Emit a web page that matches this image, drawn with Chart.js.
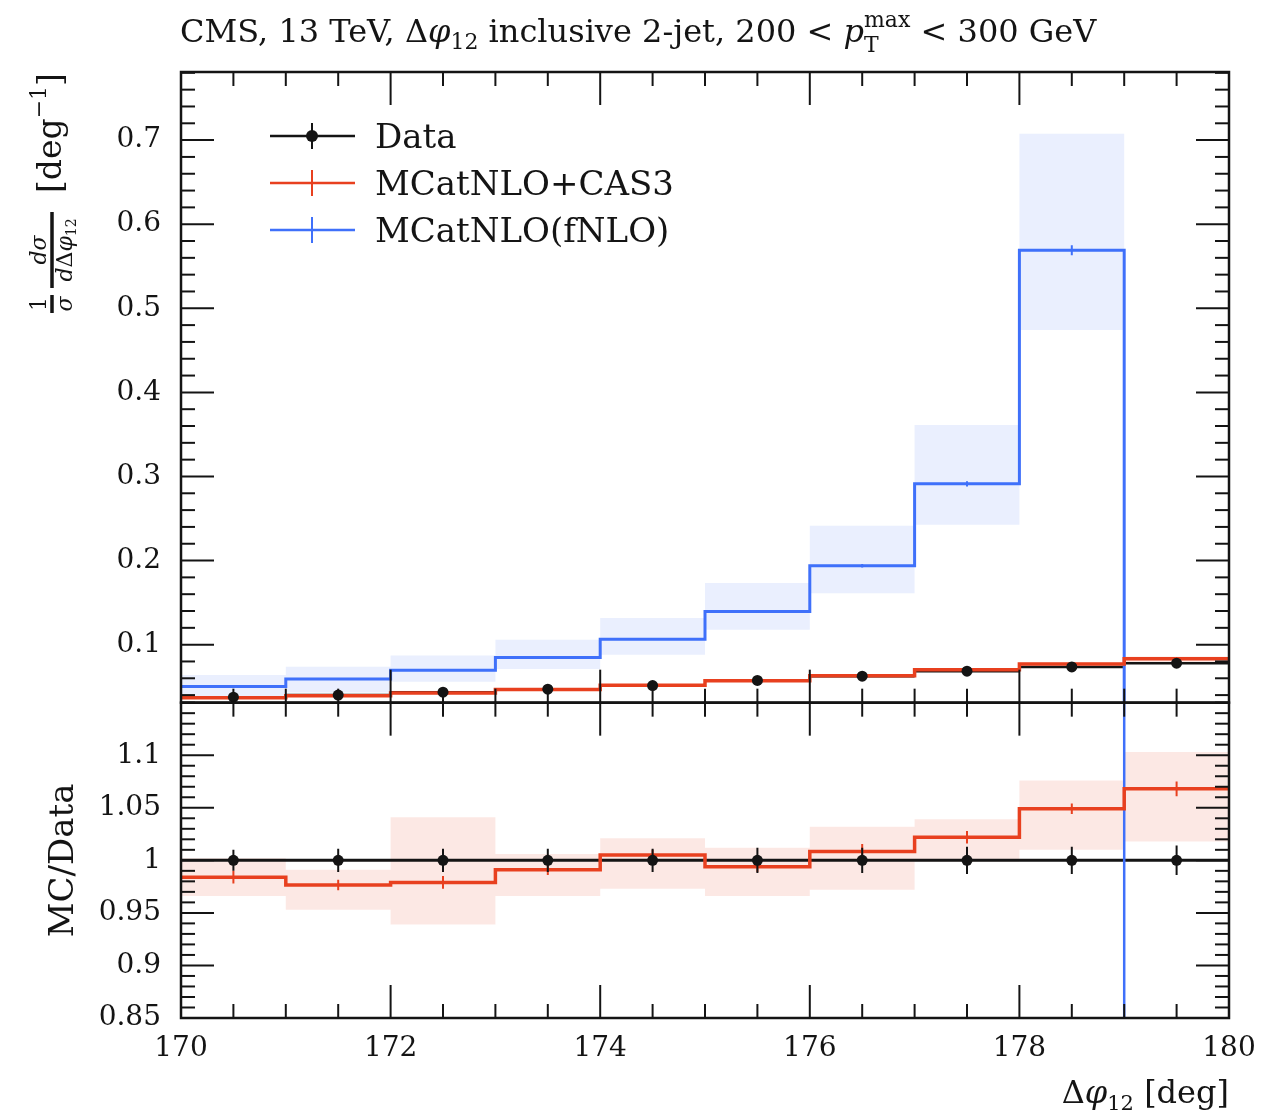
<!DOCTYPE html>
<html>
<head>
<meta charset="utf-8">
<title>CMS 13 TeV, delta phi12 inclusive 2-jet</title>
<script src="https://cdn.jsdelivr.net/npm/chart.js@4.4.1/dist/chart.umd.min.js"></script>
<style>
    html, body { margin: 0; padding: 0; background: #fff; }
    canvas { display: block; }
</style>
</head>
<body>
<canvas id="dphiChart" width="1279" height="1118"></canvas>
<script>
// ---- values ----
const binEdges = [170, 171, 172, 173, 174, 175, 176, 177, 178, 179, 180];
const binCenters = [170.5, 171.5, 172.5, 173.5, 174.5, 175.5, 176.5, 177.5, 178.5, 179.5];

// upper panel: 1/sigma dsigma/dDphi12 [deg^-1]
const dataVals = [0.0375, 0.0400, 0.0435, 0.0470, 0.0513, 0.0575, 0.0625, 0.0685, 0.0735, 0.0780];
const dataErr = [0.0004, 0.0004, 0.0005, 0.0005, 0.0006, 0.0007, 0.0008, 0.0009, 0.0010, 0.0011];
const cas3Vals = [0.0369, 0.0391, 0.0426, 0.0466, 0.0516, 0.0572, 0.0630, 0.0700, 0.0771, 0.0833];
const cas3Err = [0.0002, 0.0002, 0.0003, 0.0002, 0.0003, 0.0003, 0.0004, 0.0004, 0.0004, 0.0006];
const cas3BandLo = [0.0362, 0.0381, 0.0408, 0.0454, 0.0499, 0.0555, 0.0607, 0.0684, 0.0742, 0.0794];
const cas3BandHi = [0.0376, 0.0397, 0.0453, 0.0473, 0.0524, 0.0582, 0.0645, 0.0712, 0.0791, 0.0860];
const fnloVals = [0.0502, 0.0590, 0.0695, 0.0847, 0.1065, 0.1393, 0.1938, 0.2912, 0.5691, 0];
const fnloErr = [0.0005, 0.0006, 0.0007, 0.0009, 0.0011, 0.0015, 0.0020, 0.0030, 0.0060, 0];
const fnloBandLo = [0.0380, 0.0430, 0.0560, 0.0710, 0.0881, 0.1178, 0.1612, 0.2425, 0.4741];
const fnloBandHi = [0.0640, 0.0736, 0.0870, 0.1057, 0.1317, 0.1733, 0.2413, 0.3613, 0.7075];

// lower panel: MC/Data
const dataRatio = [1, 1, 1, 1, 1, 1, 1, 1, 1, 1];
const dataRatioErr = [0.010, 0.011, 0.011, 0.011, 0.011, 0.012, 0.012, 0.013, 0.013, 0.014];
const cas3Ratio = [0.984, 0.9765, 0.979, 0.991, 1.005, 0.994, 1.0085, 1.022, 1.049, 1.068];
const cas3RatioErr = [0.006, 0.005, 0.006, 0.005, 0.005, 0.005, 0.007, 0.006, 0.005, 0.007];
const cas3RatioLo = [0.966, 0.953, 0.939, 0.966, 0.973, 0.966, 0.972, 0.999, 1.010, 1.018];
const cas3RatioHi = [1.002, 0.991, 1.041, 1.006, 1.021, 1.012, 1.032, 1.039, 1.076, 1.103];
const fnloRatio = [1.34, 1.48, 1.60, 1.80, 2.08, 2.42, 3.10, 4.25, 7.74, 0];

// tick labels
const xTickLabels = ['170', '172', '174', '176', '178', '180'];
const yTickLabels = ['0.1', '0.2', '0.3', '0.4', '0.5', '0.6', '0.7'];
const ratioTickLabels = ['0.85', '0.9', '0.95', '1', '1.05', '1.1'];
const seriesNames = ['Data', 'MCatNLO+CAS3', 'MCatNLO(fNLO)'];

// ---- style ----
const SERIF = '"DejaVu Serif", "Liberation Serif", serif';
const BLACK = '#141414';
const RED = '#e8401f';
const BLUE = '#3f70fa';
const RED_BAND = 'rgba(232, 64, 31, 0.12)';
const BLUE_BAND = 'rgba(63, 112, 250, 0.11)';
const MAJOR_TICK = 33;
const MINOR_TICK = 14;

// ---- helpers turning bin values into chart points ----
function stepPoints(values) {
    return binEdges.map((x, i) => ({ x, y: values[Math.min(i, values.length - 1)] }));
}

function binSegments(values) {
    const pts = [];
    values.forEach((v, i) => {
        pts.push({ x: binEdges[i], y: v }, { x: binEdges[i + 1], y: v }, { x: binEdges[i + 1], y: null });
    });
    return pts;
}

function errorBars(values, errs) {
    const pts = [];
    values.forEach((v, i) => {
        const c = binCenters[i];
        pts.push({ x: c, y: v - errs[i] }, { x: c, y: v + errs[i] }, { x: c, y: null });
    });
    return pts;
}

function bandBoxes(lo, hi) {
    return lo.map((l, i) => ({ x: binCenters[i], y: [l, hi[i]] }));
}

function lineSet(label, data, axis, color, width) {
    return {
        type: 'line', label, data, yAxisID: axis,
        borderColor: color, borderWidth: width,
        pointRadius: 0, fill: false, spanGaps: false, tension: 0
    };
}

function stepSet(label, values, axis, color, width) {
    const ds = lineSet(label, stepPoints(values), axis, color, width);
    ds.stepped = true;
    return ds;
}

function markerSet(label, values, axis) {
    return {
        type: 'line', label, yAxisID: axis, showLine: false,
        data: values.map((v, i) => ({ x: binCenters[i], y: v })),
        pointRadius: 5.5, pointStyle: 'circle', pointBorderWidth: 0,
        pointBackgroundColor: BLACK, pointBorderColor: BLACK
    };
}

// ungrouped bars take their width from the 0.5 deg tick spacing,
// so barPercentage 2 makes each box span one full 1 deg bin
function bandSet(label, lo, hi, axis, color) {
    return {
        type: 'bar', label, data: bandBoxes(lo, hi), yAxisID: axis,
        backgroundColor: color, borderWidth: 0,
        barPercentage: 2, categoryPercentage: 1, grouped: false
    };
}

function tickLabel(list, digits) {
    return v => {
        const s = String(+Number(v).toFixed(digits));
        return list.includes(s) ? s : '';
    };
}

// first in list is drawn on top
const datasets = [
    // upper panel
    markerSet('Data', dataVals, 'y'),
    lineSet('Data err', errorBars(dataVals, dataErr), 'y', BLACK, 2),
    lineSet('CAS3 err', errorBars(cas3Vals, cas3Err), 'y', RED, 2),
    lineSet('fNLO err', errorBars(fnloVals, fnloErr), 'y', BLUE, 2),
    stepSet('MCatNLO+CAS3', cas3Vals, 'y', RED, 3.5),
    stepSet('MCatNLO(fNLO)', fnloVals, 'y', BLUE, 3),
    lineSet('Data bins', binSegments(dataVals), 'y', BLACK, 2.5),
    bandSet('CAS3 band', cas3BandLo, cas3BandHi, 'y', RED_BAND),
    bandSet('fNLO band', fnloBandLo, fnloBandHi, 'y', BLUE_BAND),
    // lower panel
    markerSet('Data ratio', dataRatio, 'y2'),
    lineSet('Data ratio err', errorBars(dataRatio, dataRatioErr), 'y2', BLACK, 2),
    lineSet('CAS3 ratio err', errorBars(cas3Ratio, cas3RatioErr), 'y2', RED, 2),
    stepSet('CAS3 ratio', cas3Ratio, 'y2', RED, 3.5),
    stepSet('fNLO ratio', fnloRatio, 'y2', BLUE, 2.5),
    lineSet('Data ratio bins', binSegments(dataRatio), 'y2', BLACK, 3),
    bandSet('CAS3 ratio band', cas3RatioLo, cas3RatioHi, 'y2', RED_BAND)
];

// clip each dataset to its own panel (both y axes share one chart area)
const panelClip = {
    id: 'panelClip',
    beforeDatasetDraw(chart, args) {
        const ys = chart.scales[chart.data.datasets[args.index].yAxisID];
        const area = chart.chartArea;
        const ctx = chart.ctx;
        ctx.save();
        ctx.beginPath();
        ctx.rect(area.left, ys.top, area.right - area.left, ys.bottom - ys.top);
        ctx.clip();
    },
    afterDatasetDraw(chart) {
        chart.ctx.restore();
    }
};

// inward ticks on all four sides + panel frames
const frameTicks = {
    id: 'frameTicks',
    afterDraw(chart) {
        const { ctx, chartArea: area, scales } = chart;
        const xs = scales.x;
        const seg = (x1, y1, x2, y2) => {
            ctx.beginPath();
            ctx.moveTo(x1, y1);
            ctx.lineTo(x2, y2);
            ctx.stroke();
        };
        ctx.save();
        ctx.strokeStyle = BLACK;
        ctx.lineWidth = 2;
        ['y', 'y2'].forEach(id => {
            const ys = scales[id];
            ys.ticks.forEach(t => {
                const py = ys.getPixelForValue(t.value);
                const len = t.label ? MAJOR_TICK : MINOR_TICK;
                seg(area.left, py, area.left + len, py);
                seg(area.right - len, py, area.right, py);
            });
            xs.ticks.forEach(t => {
                const px = xs.getPixelForValue(t.value);
                const len = t.label ? MAJOR_TICK : MINOR_TICK;
                seg(px, ys.top, px, ys.top + len);
                seg(px, ys.bottom - len, px, ys.bottom);
            });
        });
        ctx.lineWidth = 2.5;
        ['y', 'y2'].forEach(id => {
            const ys = scales[id];
            ctx.strokeRect(area.left, ys.top, area.right - area.left, ys.bottom - ys.top);
        });
        ctx.restore();
    }
};

// draws a run of text pieces (sub/superscripts, italics)
function drawRich(ctx, x, y, parts, align) {
    const font = p => (p.italic ? 'italic ' : '') + p.size + 'px ' + SERIF;
    const widthOf = p => {
        ctx.font = font(p);
        let w = ctx.measureText(p.t).width;
        if (p.sup) {
            ctx.font = font(p.sup);
            w = Math.max(w, ctx.measureText(p.sup.t).width);
        }
        return w;
    };
    if (align === 'right') x -= parts.reduce((s, p) => s + widthOf(p), 0);
    if (align === 'center') x -= parts.reduce((s, p) => s + widthOf(p), 0) / 2;
    parts.forEach(p => {
        const w = widthOf(p);
        ctx.font = font(p);
        ctx.fillText(p.t, x, y + (p.dy || 0));
        if (p.sup) {
            ctx.font = font(p.sup);
            ctx.fillText(p.sup.t, x, y + p.sup.dy);
        }
        x += w;
    });
}

const annotations = {
    id: 'annotations',
    afterDraw(chart) {
        const { ctx, chartArea: area, scales } = chart;
        ctx.save();
        ctx.fillStyle = BLACK;
        ctx.textBaseline = 'alphabetic';
        ctx.textAlign = 'left';

        // title
        drawRich(ctx, area.left - 1, 42, [
            { t: 'CMS, 13 TeV, Δ', size: 32 },
            { t: 'φ', size: 32, italic: true },
            { t: '12', size: 22, dy: 7 },
            { t: ' inclusive 2-jet, 200 < ', size: 32 },
            { t: 'p', size: 32, italic: true },
            { t: 'T', size: 22, dy: 10, sup: { t: 'max', size: 22, dy: -15 } },
            { t: ' < 300 GeV', size: 32 }
        ]);

        // legend
        const colors = [BLACK, RED, BLUE];
        seriesNames.forEach((name, i) => {
            const ly = 136 + i * 47;
            ctx.strokeStyle = colors[i];
            ctx.lineWidth = 2.5;
            ctx.beginPath();
            ctx.moveTo(270, ly);
            ctx.lineTo(355, ly);
            ctx.stroke();
            ctx.lineWidth = 2;
            ctx.beginPath();
            ctx.moveTo(312, ly - 13);
            ctx.lineTo(312, ly + 13);
            ctx.stroke();
            if (i === 0) {
                ctx.beginPath();
                ctx.arc(312, ly, 6, 0, Math.PI * 2);
                ctx.fill();
            }
            ctx.font = '34px ' + SERIF;
            ctx.fillText(name, 375, ly + 12);
        });

        // x axis title
        drawRich(ctx, area.right, 1103, [
            { t: 'Δ', size: 32 },
            { t: 'φ', size: 32, italic: true },
            { t: '12', size: 21, dy: 7 },
            { t: ' [deg]', size: 32 }
        ], 'right');

        // upper y axis title, rotated
        const yTop = scales.y;
        ctx.save();
        ctx.translate(52, yTop.top + 241);
        ctx.rotate(-Math.PI / 2);
        ctx.strokeStyle = BLACK;
        ctx.lineWidth = 3.5;
        ctx.beginPath();
        ctx.moveTo(0, 0); ctx.lineTo(18, 0);
        ctx.moveTo(25, 0); ctx.lineTo(101, 0);
        ctx.stroke();
        ctx.textAlign = 'center';
        ctx.font = '22px ' + SERIF;
        ctx.fillText('1', 9, -6);
        ctx.font = 'italic 22px ' + SERIF;
        ctx.fillText('σ', 9, 20);
        ctx.fillText('dσ', 63, -6);
        ctx.textAlign = 'left';
        drawRich(ctx, 63, 20, [
            { t: 'd', size: 22, italic: true },
            { t: 'Δ', size: 22 },
            { t: 'φ', size: 22, italic: true },
            { t: '12', size: 14, dy: 4 }
        ], 'center');
        drawRich(ctx, 120, 9, [
            { t: '[deg', size: 33 },
            { t: '−1', size: 22, dy: -15 },
            { t: ']', size: 33 }
        ]);
        ctx.restore();

        // lower y axis title, rotated
        const yLow = scales.y2;
        ctx.save();
        ctx.translate(73, (yLow.top + yLow.bottom) / 2);
        ctx.rotate(-Math.PI / 2);
        ctx.textAlign = 'center';
        ctx.font = '34px ' + SERIF;
        ctx.fillText('MC/Data', 0, 0);
        ctx.restore();

        ctx.restore();
    }
};

const tickFont = { family: SERIF, size: 28 };

new Chart(document.getElementById('dphiChart'), {
    type: 'line',
    data: { datasets },
    options: {
        responsive: false,
        animation: false,
        events: [],
        layout: { padding: { left: 0, top: 72, right: 50, bottom: 0 } },
        plugins: {
            legend: { display: false },
            tooltip: { enabled: false },
            title: { display: false }
        },
        scales: {
            x: {
                type: 'linear', min: 170, max: 180, offset: false,
                grid: { display: false, drawTicks: false },
                border: { display: false },
                ticks: {
                    stepSize: 0.5, autoSkip: false, maxRotation: 0, minRotation: 0,
                    padding: 14, color: BLACK, font: tickFont,
                    callback: tickLabel(xTickLabels, 1)
                },
                afterFit(scale) {
                    scale.height = 100;
                    scale.paddingLeft = 0;
                    scale.paddingRight = 0;
                }
            },
            y: {
                type: 'linear', position: 'left', stack: 'panels', stackWeight: 2, weight: 1,
                min: 0.031, max: 0.781,
                grid: { display: false, drawTicks: false },
                border: { display: false },
                ticks: {
                    stepSize: 0.02, includeBounds: false, autoSkip: false,
                    padding: 20, color: BLACK, font: tickFont,
                    callback: tickLabel(yTickLabels, 2)
                },
                afterFit(scale) {
                    scale.width = 181;
                    scale.paddingTop = 0;
                    scale.paddingBottom = 0;
                }
            },
            y2: {
                type: 'linear', position: 'left', stack: 'panels', stackWeight: 1, weight: 0,
                min: 0.85, max: 1.15,
                grid: { display: false, drawTicks: false },
                border: { display: false },
                ticks: {
                    stepSize: 0.01, includeBounds: false, autoSkip: false,
                    padding: 20, color: BLACK, font: tickFont,
                    callback: tickLabel(ratioTickLabels, 2)
                },
                afterFit(scale) {
                    scale.width = 181;
                    scale.paddingTop = 0;
                    scale.paddingBottom = 0;
                }
            }
        }
    },
    plugins: [panelClip, frameTicks, annotations]
});
</script>
</body>
</html>
